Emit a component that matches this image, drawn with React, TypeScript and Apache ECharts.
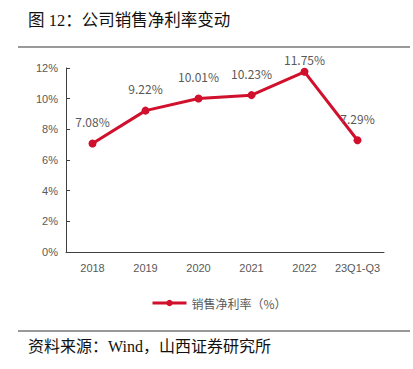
import React, { useEffect, useRef } from "react";
import * as echarts from "echarts";

const categories = ["2018", "2019", "2020", "2021", "2022", "23Q1-Q3"];
const netMargin = [7.08, 9.22, 10.01, 10.23, 11.75, 7.29];
const yTicks = [0, 2, 4, 6, 8, 10, 12];
const seriesName = "销售净利率（%）";
const titleText = "图 12：公司销售净利率变动";
const sourceText = "资料来源：Wind，山西证券研究所";

export default function App() {
  const ref = useRef<HTMLDivElement>(null);
  useEffect(() => {
    if (!ref.current) return;
    const chart = echarts.init(ref.current, undefined, { renderer: "svg" });
    const red = "#D0102C";
    chart.setOption({
      animation: false,
      backgroundColor: "#ffffff",
      grid: { left: 66, right: 29, top: 68, bottom: 117, containLabel: false },
      xAxis: {
        type: "category",
        data: categories,
        boundaryGap: true,
        axisLine: { lineStyle: { color: "#404040", width: 1 } },
        axisTick: { inside: true, length: 4, interval: 0, lineStyle: { color: "#404040" } },
        axisLabel: { color: "#595959", fontSize: 11, fontFamily: "Liberation Sans", margin: 10, interval: 0 },
      },
      yAxis: {
        type: "value",
        min: yTicks[0],
        max: yTicks[yTicks.length - 1],
        interval: 2,
        axisLine: { show: true, lineStyle: { color: "#404040", width: 1 } },
        axisTick: { show: true, inside: true, length: 4, lineStyle: { color: "#404040" } },
        splitLine: { show: false },
        axisLabel: { color: "#595959", fontSize: 11, fontFamily: "Liberation Sans", formatter: "{value}%", margin: 8 },
      },
      legend: {
        left: 146,
        top: 292,
        itemWidth: 34,
        itemHeight: 8,
        itemGap: 4,
        lineStyle: { width: 3 },
        textStyle: { color: "#595959", fontSize: 12, fontFamily: "Noto Sans CJK SC" },
        data: [seriesName],
      },
      series: [
        {
          name: seriesName,
          type: "line",
          data: netMargin.map((v, i) =>
            i === 4 ? { value: v, label: { distance: 2 } } : v
          ),
          symbol: "circle",
          symbolSize: 8,
          itemStyle: { color: red },
          lineStyle: { color: red, width: 3 },
          label: {
            show: true,
            position: "top",
            distance: 12,
            color: "#595959",
            fontSize: 12,
            fontFamily: "Noto Sans CJK SC",
            formatter: (p: any) => p.value.toFixed(2) + "%",
          },
        },
      ],
      graphic: [
        {
          type: "text",
          left: 28,
          top: 12,
          style: { text: titleText, fontSize: 16.5, fill: "#111", fontFamily: "Liberation Serif, Noto Sans CJK SC" },
        },
        {
          type: "line",
          shape: { x1: 18, y1: 47, x2: 410, y2: 47 },
          style: { stroke: "#777", lineWidth: 1.5 },
        },
        {
          type: "line",
          shape: { x1: 18, y1: 331, x2: 410, y2: 331 },
          style: { stroke: "#333", lineWidth: 1 },
        },
        {
          type: "text",
          left: 28,
          top: 338,
          style: { text: sourceText, fontSize: 16, fill: "#111", fontFamily: "Liberation Serif, Noto Sans CJK SC" },
        },
      ],
    });
    return () => chart.dispose();
  }, []);
  return (
    <div
      ref={ref}
      style={{ position: "absolute", left: 0, top: 0, width: 413, height: 369 }}
    />
  );
}
